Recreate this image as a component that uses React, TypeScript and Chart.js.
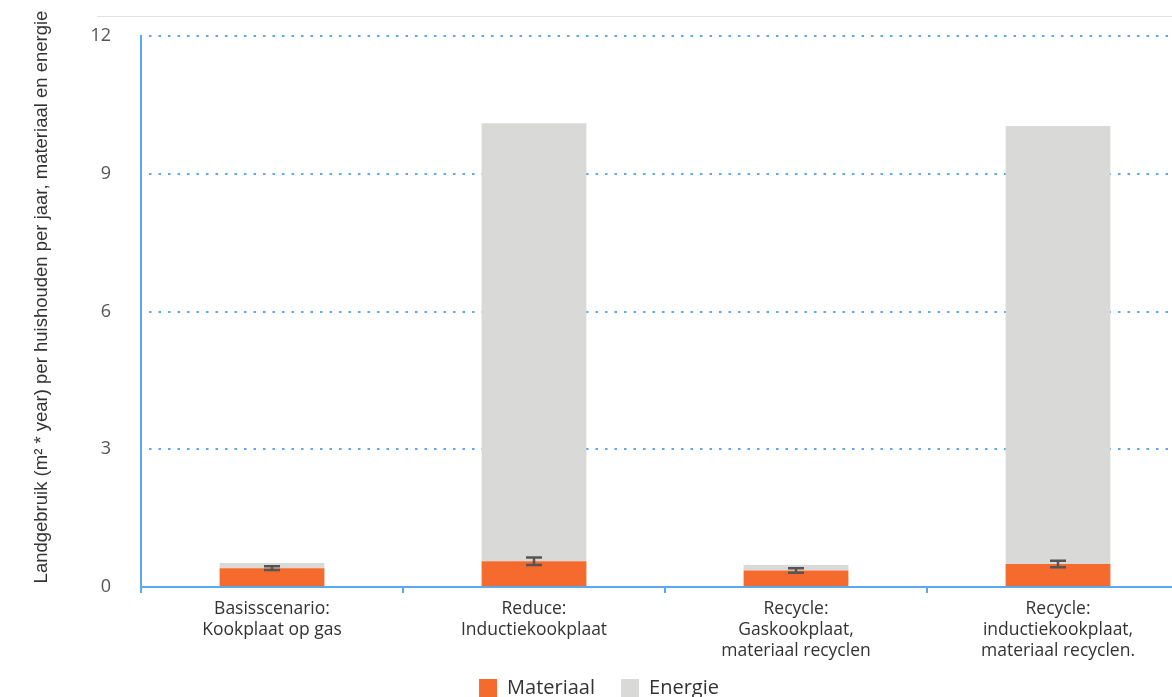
import React, { useEffect, useRef } from "react";
import { Chart, registerables } from "chart.js";

Chart.register(...registerables);

const categories: string[][] = [
  ["Basisscenario:", "Kookplaat op gas"],
  ["Reduce:", "Inductiekookplaat"],
  ["Recycle:", "Gaskookplaat,", "materiaal recyclen"],
  ["Recycle:", "inductiekookplaat,", "materiaal recyclen."],
];
const materiaal = [0.41, 0.56, 0.36, 0.5];
const energie = [0.11, 9.54, 0.12, 9.54];
const materiaalError = [0.04, 0.08, 0.05, 0.07];
const yTicks = [0, 3, 6, 9, 12];
const yTitle = "Landgebruik (m² * year) per huishouden per jaar, materiaal en energie";

const BLUE = "#5aa8f0";
const ORANGE = "#f56b2d";
const GRAY = "#d9d9d8";
const FONT = "'Open Sans', Lato, sans-serif";

const errorBarPlugin = {
  id: "errorBars",
  afterDatasetsDraw(chart: any) {
    const meta = chart.getDatasetMeta(0);
    const y = chart.scales.y;
    const ctx = chart.ctx;
    ctx.save();
    ctx.strokeStyle = "#555555";
    ctx.lineWidth = 2.5;
    meta.data.forEach((el: any, i: number) => {
      const x = el.x;
      const top = y.getPixelForValue(materiaal[i] + materiaalError[i]);
      const bot = y.getPixelForValue(materiaal[i] - materiaalError[i]);
      ctx.beginPath();
      ctx.moveTo(x, top);
      ctx.lineTo(x, bot);
      ctx.moveTo(x - 8, top);
      ctx.lineTo(x + 8, top);
      ctx.moveTo(x - 8, bot);
      ctx.lineTo(x + 8, bot);
      ctx.stroke();
    });
    ctx.restore();
  },
};

const yTitlePlugin = {
  id: "yTitleText",
  afterDraw(chart: any) {
    const ctx = chart.ctx;
    ctx.save();
    ctx.translate(42, 297);
    ctx.rotate(-Math.PI / 2);
    ctx.font = "18.5px 'Liberation Sans', Arial, sans-serif";
    ctx.fillStyle = "#333333";
    ctx.textAlign = "center";
    ctx.textBaseline = "middle";
    ctx.fillText(yTitle, 0, 0);
    ctx.restore();
  },
};

export default function App() {
  const ref = useRef<HTMLCanvasElement | null>(null);
  useEffect(() => {
    if (!ref.current) return;
    const chart = new Chart(ref.current, {
      type: "bar",
      data: {
        labels: categories,
        datasets: [
          {
            label: "Materiaal",
            data: materiaal,
            backgroundColor: ORANGE,
            barPercentage: 0.4,
            categoryPercentage: 1.0,
          },
          {
            label: "Energie",
            data: energie,
            backgroundColor: GRAY,
            barPercentage: 0.4,
            categoryPercentage: 1.0,
          },
        ],
      },
      options: {
        responsive: false,
        animation: false,
        devicePixelRatio: 1,
        layout: { padding: { left: 9, right: 0, top: 36, bottom: 0 } },
        plugins: {
          legend: {
            position: "bottom",
            labels: {
              boxWidth: 18,
              boxHeight: 18,
              padding: 26,
              color: "#333333",
              font: { family: FONT, size: 20 },
            },
          },
          tooltip: { enabled: false },
        },
        scales: {
          x: {
            stacked: true,
            grid: {
              display: true,
              drawOnChartArea: false,
              drawTicks: true,
              tickLength: 6,
              color: BLUE,
              lineWidth: 2,
            },
            border: { display: true, color: BLUE, width: 2 },
            ticks: {
              color: "#333333",
              padding: 6,
              maxRotation: 0,
              autoSkip: false,
              font: { family: FONT, size: 17.5, lineHeight: "21px" },
            },
            afterFit(scale: any) {
              scale.height = 65;
              scale._computeLabelArea = () => undefined;
            },
          },
          y: {
            stacked: true,
            min: 0,
            max: 12,
            afterBuildTicks(scale: any) {
              scale.ticks = yTicks.map((v) => ({ value: v }));
            },
            grid: {
              display: true,
              drawTicks: false,
              color: BLUE,
              lineWidth: 2,
            },
            border: { display: true, color: BLUE, width: 2, dash: [2.5, 7], dashOffset: 2.5 },
            ticks: {
              color: "#555555",
              padding: 30,
              font: { family: FONT, size: 18 },
            },
            title: { display: false },
            afterFit(scale: any) {
              scale.width = 132;
              scale.paddingTop = 0;
              scale.paddingBottom = 0;
            },
          },
        },
      },
      plugins: [errorBarPlugin, yTitlePlugin],
    } as any);
    return () => chart.destroy();
  }, []);

  return (
    <div
      style={{
        position: "fixed",
        left: 0,
        top: 0,
        width: 1172,
        height: 697,
        overflow: "hidden",
        background: "#ffffff",
      }}
    >
      <div
        style={{
          position: "absolute",
          left: 97,
          top: 16,
          width: 1075,
          height: 1,
          background: "#e2e2e2",
        }}
      />
      <canvas
        ref={ref}
        width={1189}
        height={708}
        style={{ position: "absolute", left: 0, top: 0, width: 1189, height: 708 }}
      />
    </div>
  );
}
